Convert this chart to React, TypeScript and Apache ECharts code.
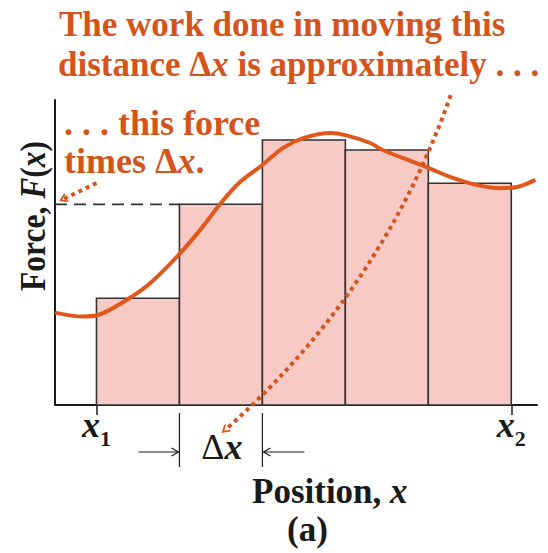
import React, { useEffect, useRef } from 'react';
import * as echarts from 'echarts';

// Rectangles of the Riemann-sum approximation: each starts at barStarts[i], spans one Δx
const barStarts = [0, 1, 2, 3, 4];
const barWidths = [1, 1, 1, 1, 1];
const barHeights = [3.5, 6.58, 8.69, 8.36, 7.27];

// Sampled force curve F(x)
const curveX = [-0.5, -0.16, 0.02, 0.4, 0.65, 0.99, 1.28, 1.49, 1.73, 2.0, 2.25, 2.49, 2.82, 3.0, 3.3, 3.45, 3.98, 4.26, 4.59, 4.86, 5.07, 5.29];
const curveY = [3.03, 2.9, 2.95, 3.51, 4.0, 4.92, 5.84, 6.59, 7.31, 7.87, 8.43, 8.75, 8.92, 8.85, 8.59, 8.36, 7.8, 7.48, 7.21, 7.11, 7.15, 7.38];

// Ticks on the position axis: x1 and x2
const tickPositions = [0, 5];
const tickSubscripts = ['1', '2'];

// The slice whose width is marked as Δx
const markedBar = 1;

// Dotted pointer arrows (start, end) in axis units
const workArrow = [[4.27, 10.16], [1.55, -0.82]];
const forceArrow = [[0.0, 7.28], [-0.4, 6.75]];

const FAMILY = '"Liberation Serif", serif';
const ORANGE = '#d4541b';
const CURVE = '#e2581a';
const INK = '#1a1a1a';
const CHEVRON = 'path://M0,0 L10,9 L8,11 L0,4 L-8,11 L-10,9 Z';

const font = (size: number, bold = true, italic = false) =>
  `${italic ? 'italic ' : ''}${bold ? 'bold ' : ''}${size}px ${FAMILY}`;

const tok = (size: number, fill: string, bold = true, italic = false) => ({
  font: font(size, bold, italic),
  fontFamily: FAMILY,
  fontSize: size,
  fontWeight: bold ? 'bold' : 'normal',
  fontStyle: italic ? 'italic' : 'normal',
  fill,
});

const titleRich = { n: tok(35, ORANGE), i: tok(35, ORANGE, true, true) };
const noteRich = { n: tok(36, ORANGE), i: tok(36, ORANGE, true, true) };
const inkRich = { n: tok(35, INK), i: tok(35, INK, true, true) };
const axisNameRich = { n: tok(36, INK), i: tok(36, INK, true, true) };

export default function App() {
  const ref = useRef<HTMLDivElement>(null);

  useEffect(() => {
    if (!ref.current) return;
    const chart = echarts.init(ref.current, undefined, { renderer: 'svg' });

    const bars = barStarts.map((s, i) => [s, s + barWidths[i], barHeights[i]]);
    const curve = curveX.map((x, i) => [x, curveY[i]]);
    const markedStart = barStarts[markedBar];
    const markedEnd = markedStart + barWidths[markedBar];
    const markedHeight = barHeights[markedBar];

    chart.setOption({
      animation: false,
      grid: { left: 55, right: 11, top: 100, bottom: 148, containLabel: false, outerBoundsMode: 'none' },
      xAxis: {
        type: 'value',
        min: -0.5,
        max: 5.31,
        splitLine: { show: false },
        axisLine: { show: true, onZero: false, lineStyle: { color: INK, width: 2 } },
        axisTick: {
          show: true,
          customValues: tickPositions,
          length: 10,
          lineStyle: { color: INK, width: 1.5 },
        },
        axisLabel: {
          show: true,
          customValues: tickPositions,
          margin: 2,
          formatter: (v: number) => {
            const k = tickPositions.indexOf(v);
            return '{x|x}{s|' + (k >= 0 ? tickSubscripts[k] : '') + '}';
          },
          rich: {
            x: { fontFamily: FAMILY, fontWeight: 'bold', fontStyle: 'italic', fontSize: 36, color: INK, verticalAlign: 'bottom', padding: [0, 0, 6, 0] },
            s: { fontFamily: FAMILY, fontWeight: 'bold', fontSize: 22, color: INK, verticalAlign: 'bottom' },
          },
        },
      },
      yAxis: {
        type: 'value',
        min: 0,
        max: 10,
        splitLine: { show: false },
        axisTick: { show: false },
        axisLabel: { show: false },
        axisLine: { show: true, onZero: false, lineStyle: { color: INK, width: 2 } },
      },
      series: [
        {
          type: 'custom',
          name: 'slices',
          z: 1,
          data: bars,
          renderItem: (_p: any, api: any) => {
            const tl = api.coord([api.value(0), api.value(2)]);
            const br = api.coord([api.value(1), 0]);
            return {
              type: 'rect',
              shape: { x: tl[0], y: tl[1], width: br[0] - tl[0], height: br[1] - tl[1] },
              style: { fill: '#f8cac6', stroke: '#333', lineWidth: 1.6 },
            };
          },
        },
        {
          type: 'line',
          name: 'level',
          z: 2,
          symbol: 'none',
          data: [[-0.5, markedHeight], [markedStart, markedHeight]],
          lineStyle: { color: '#333', width: 1.8, type: [12, 7] },
        },
        {
          type: 'line',
          name: 'F(x)',
          z: 3,
          symbol: 'none',
          smooth: 0.35,
          data: curve,
          lineStyle: { color: CURVE, width: 4 },
        },
        {
          type: 'lines',
          coordinateSystem: 'cartesian2d',
          z: 4,
          clip: false,
          symbol: ['none', CHEVRON],
          symbolSize: [13, 9],
          lineStyle: { color: ORANGE, width: 4, type: [4, 4], opacity: 1 },
          itemStyle: { color: ORANGE },
          data: [
            { coords: workArrow, lineStyle: { curveness: 0.13 } },
            { coords: forceArrow, lineStyle: { curveness: 0 } },
          ],
        },
        {
          type: 'custom',
          name: 'dx',
          z: 5,
          clip: false,
          data: [[markedStart, markedEnd]],
          renderItem: (_p: any, api: any) => {
            const a = api.coord([api.value(0), 0]);
            const b = api.coord([api.value(1), 0]);
            const y0 = a[1];
            const ln = { stroke: INK, lineWidth: 1.2, fill: 'none' };
            return {
              type: 'group',
              children: [
                { type: 'line', shape: { x1: a[0], y1: y0 + 8, x2: a[0], y2: y0 + 62 }, style: ln },
                { type: 'line', shape: { x1: b[0], y1: y0 + 8, x2: b[0], y2: y0 + 62 }, style: ln },
                { type: 'line', shape: { x1: a[0] - 41, y1: y0 + 47, x2: a[0] - 1, y2: y0 + 47 }, style: ln },
                { type: 'polyline', shape: { points: [[a[0] - 8, y0 + 43], [a[0] - 1, y0 + 47], [a[0] - 8, y0 + 51]] }, style: ln },
                { type: 'line', shape: { x1: b[0] + 42, y1: y0 + 47, x2: b[0] + 1, y2: y0 + 47 }, style: ln },
                { type: 'polyline', shape: { points: [[b[0] + 8, y0 + 43], [b[0] + 1, y0 + 47], [b[0] + 8, y0 + 51]] }, style: ln },
                {
                  type: 'text',
                  x: (a[0] + b[0]) / 2 + 1,
                  y: y0 + 42,
                  style: {
                    text: '{d|Δ}{i|x}',
                    align: 'center',
                    verticalAlign: 'middle',
                    rich: { d: tok(36, INK, false), i: tok(36, INK, true, true) },
                  },
                },
              ],
            };
          },
        },
      ],
      graphic: [
        {
          type: 'text', x: 59, y: 24,
          style: { text: '{n|The work done in moving this}', rich: titleRich, align: 'left', verticalAlign: 'middle' },
        },
        {
          type: 'text', x: 58, y: 64,
          style: { text: '{n|distance Δ}{i|x}{n| is approximately . . .}', rich: titleRich, align: 'left', verticalAlign: 'middle' },
        },
        {
          type: 'text', x: 64, y: 123,
          style: { text: '{n|. . . this force}', rich: noteRich, align: 'left', verticalAlign: 'middle' },
        },
        {
          type: 'text', x: 64, y: 161,
          style: { text: '{n|times Δ}{i|x}{n|.}', rich: noteRich, align: 'left', verticalAlign: 'middle' },
        },
        {
          type: 'text', x: 33, y: 216, rotation: Math.PI / 2, scaleX: 0.875,
          style: { text: '{n|Force, }{i|F}{n|(}{i|x}{n|)}', rich: axisNameRich, align: 'center', verticalAlign: 'middle' },
        },
        {
          type: 'text', x: 252, y: 491,
          style: { text: '{n|Position, }{i|x}', rich: inkRich, align: 'left', verticalAlign: 'middle' },
        },
        {
          type: 'text', x: 287, y: 529,
          style: { text: '{n|(a)}', rich: inkRich, align: 'left', verticalAlign: 'middle' },
        },
      ],
    });

    return () => chart.dispose();
  }, []);

  return (
    <div
      ref={ref}
      style={{ position: 'absolute', left: 0, top: 0, width: 548, height: 553, background: '#fff' }}
    />
  );
}
